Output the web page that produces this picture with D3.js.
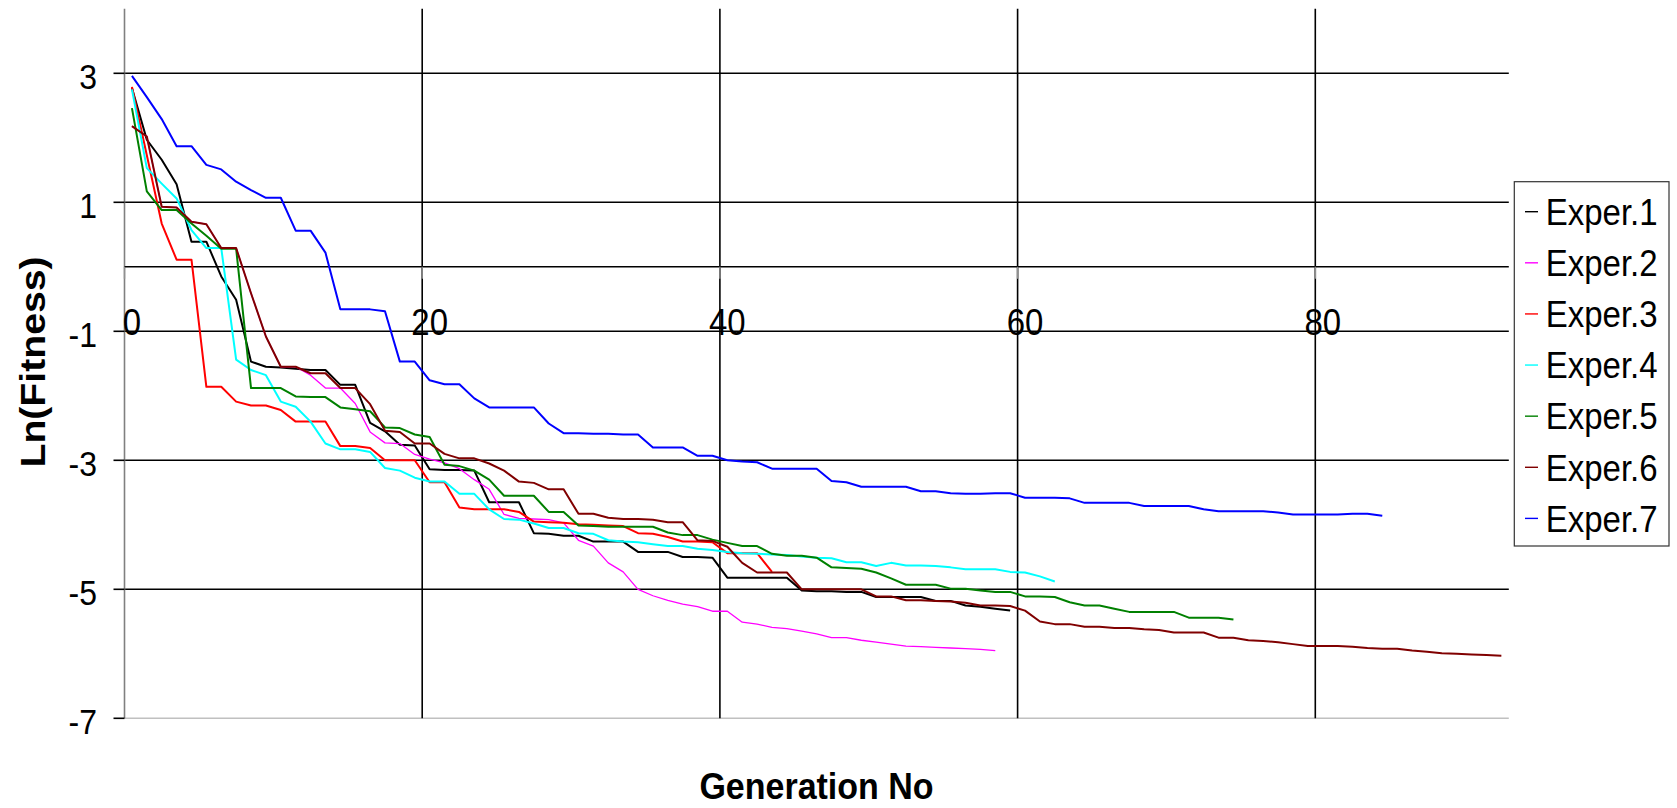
<!DOCTYPE html>
<html>
<head>
<meta charset="utf-8">
<script src="https://cdn.jsdelivr.net/npm/d3@7"></script>
<style>
  html, body { margin: 0; padding: 0; background: #fff; }
  svg { display: block; }
  text { font-family: "Liberation Sans", Arial, sans-serif; fill: #000; }
</style>
</head>
<body>
<svg id="chart" width="1677" height="808"></svg>
<script>
// Ln(fitness) of the best individual per generation, one array per experiment
const generations = d3.range(93);
const seriesNames = ["Exper.1", "Exper.2", "Exper.3", "Exper.4", "Exper.5", "Exper.6", "Exper.7"];
const seriesColors = ["#000000", "#ff00ff", "#ff0000", "#00ffff", "#008000", "#800000", "#0000ff"];

const exper1 = [2.77, 1.97, 1.66, 1.28, 0.39, 0.39, -0.15, -0.51, -1.47, -1.55,
  -1.56, -1.58, -1.60, -1.60, -1.83, -1.83, -2.42, -2.55, -2.76, -2.77,
  -3.14, -3.15, -3.15, -3.16, -3.65, -3.65, -3.65, -4.13, -4.14, -4.17,
  -4.17, -4.26, -4.26, -4.26, -4.42, -4.42, -4.42, -4.50, -4.50, -4.51,
  -4.82, -4.82, -4.82, -4.82, -4.82, -5.02, -5.03, -5.03, -5.04, -5.04,
  -5.12, -5.12, -5.12, -5.12, -5.18, -5.18, -5.25, -5.27, -5.30, -5.33];

const exper2 = [2.18, 2.02, 0.93, 0.92, 0.70, 0.66, 0.29, 0.29, -0.41, -1.08,
  -1.55, -1.55, -1.68, -1.88, -1.88, -2.12, -2.56, -2.73, -2.74, -2.91,
  -2.98, -3.04, -3.13, -3.30, -3.45, -3.84, -3.90, -3.91, -3.92, -3.97,
  -4.24, -4.33, -4.59, -4.73, -5.00, -5.10, -5.17, -5.23, -5.27, -5.34,
  -5.34, -5.51, -5.54, -5.59, -5.61, -5.65, -5.69, -5.75, -5.75, -5.79,
  -5.82, -5.85, -5.88, -5.89, -5.90, -5.91, -5.92, -5.93, -5.95];

const exper3 = [2.79, 1.73, 0.67, 0.11, 0.11, -1.86, -1.86, -2.09, -2.15, -2.15,
  -2.22, -2.40, -2.40, -2.40, -2.78, -2.78, -2.81, -3.00, -3.00, -3.00,
  -3.34, -3.34, -3.73, -3.76, -3.76, -3.76, -3.80, -3.95, -3.96, -3.97,
  -3.99, -4.00, -4.01, -4.02, -4.13, -4.14, -4.19, -4.26, -4.26, -4.27,
  -4.44, -4.44, -4.44, -4.73];

const exper4 = [2.75, 1.53, 1.29, 1.06, 0.57, 0.29, 0.29, -1.44, -1.60, -1.68,
  -2.09, -2.17, -2.40, -2.74, -2.83, -2.83, -2.87, -3.12, -3.16, -3.27,
  -3.33, -3.33, -3.52, -3.52, -3.76, -3.91, -3.92, -3.98, -4.05, -4.05,
  -4.13, -4.14, -4.24, -4.26, -4.27, -4.30, -4.33, -4.33, -4.37, -4.39,
  -4.42, -4.44, -4.45, -4.46, -4.47, -4.49, -4.51, -4.52, -4.58, -4.58,
  -4.64, -4.59, -4.63, -4.63, -4.64, -4.66, -4.69, -4.69, -4.69, -4.73,
  -4.74, -4.80, -4.88];

const exper5 = [2.46, 1.17, 0.88, 0.88, 0.67, 0.48, 0.28, 0.28, -1.88, -1.88,
  -1.88, -2.01, -2.02, -2.02, -2.18, -2.21, -2.24, -2.49, -2.50, -2.60,
  -2.64, -3.07, -3.09, -3.16, -3.30, -3.55, -3.55, -3.55, -3.80, -3.80,
  -4.01, -4.02, -4.03, -4.03, -4.03, -4.03, -4.12, -4.16, -4.16, -4.23,
  -4.28, -4.33, -4.33, -4.45, -4.48, -4.48, -4.51, -4.66, -4.67, -4.68,
  -4.74, -4.83, -4.93, -4.93, -4.93, -4.99, -4.99, -5.02, -5.04, -5.04,
  -5.11, -5.11, -5.12, -5.20, -5.25, -5.25, -5.30, -5.35, -5.35, -5.35,
  -5.35, -5.44, -5.44, -5.44, -5.47];

const exper6 = [2.18, 2.02, 0.93, 0.92, 0.70, 0.66, 0.29, 0.29, -0.41, -1.08,
  -1.55, -1.55, -1.65, -1.65, -1.88, -1.88, -2.13, -2.54, -2.56, -2.74,
  -2.74, -2.90, -2.97, -2.97, -3.05, -3.16, -3.33, -3.35, -3.45, -3.45,
  -3.83, -3.83, -3.89, -3.91, -3.91, -3.92, -3.96, -3.96, -4.24, -4.25,
  -4.34, -4.59, -4.74, -4.74, -4.74, -5.00, -5.00, -5.00, -5.00, -5.00,
  -5.11, -5.11, -5.17, -5.17, -5.18, -5.19, -5.21, -5.25, -5.25, -5.26,
  -5.33, -5.50, -5.54, -5.54, -5.58, -5.58, -5.60, -5.60, -5.62, -5.63,
  -5.67, -5.67, -5.67, -5.75, -5.75, -5.79, -5.80, -5.82, -5.85, -5.88,
  -5.88, -5.88, -5.89, -5.91, -5.92, -5.92, -5.95, -5.97, -5.99, -6.00,
  -6.01, -6.02, -6.03];

const exper7 = [2.96, 2.63, 2.29, 1.87, 1.87, 1.58, 1.51, 1.32, 1.19, 1.07,
  1.07, 0.56, 0.56, 0.22, -0.66, -0.66, -0.66, -0.69, -1.47, -1.47,
  -1.76, -1.82, -1.82, -2.04, -2.18, -2.18, -2.18, -2.18, -2.43, -2.58,
  -2.58, -2.59, -2.59, -2.60, -2.60, -2.80, -2.80, -2.80, -2.93, -2.93,
  -3.00, -3.02, -3.03, -3.13, -3.13, -3.13, -3.13, -3.32, -3.34, -3.41,
  -3.41, -3.41, -3.41, -3.48, -3.48, -3.51, -3.52, -3.52, -3.51, -3.51,
  -3.58, -3.58, -3.58, -3.59, -3.66, -3.66, -3.66, -3.66, -3.71, -3.71,
  -3.71, -3.71, -3.76, -3.79, -3.79, -3.79, -3.79, -3.81, -3.84, -3.84,
  -3.84, -3.84, -3.83, -3.83, -3.86];

const allSeries = [exper1, exper2, exper3, exper4, exper5, exper6, exper7];

const xTickLabels = [0, 20, 40, 60, 80];
const yTickValues = [-7, -5, -3, -1, 1, 3];
const yGridValues = [-5, -3, -1, 1, 3];

// ---- layout ----
const plotLeft = 124.5, plotRight = 1508.8, plotTop = 8.8, plotBottom = 718.3;

const svg = d3.select("#chart");

// category axis: one band per generation, points sit in the band centre
const x = d3.scaleBand().domain(generations).range([plotLeft, plotRight]).padding(0);
const bw = x.bandwidth();
const y = d3.scaleLinear().domain([-7, 4]).range([plotBottom, plotTop]);

const grid = svg.append("g");

// bottom border of the plot area
grid.append("line")
  .attr("x1", plotLeft).attr("x2", plotRight)
  .attr("y1", y(-7)).attr("y2", y(-7))
  .attr("stroke", "#c0c0c0").attr("stroke-width", 1.5);

// horizontal grid lines
grid.selectAll("line.hgrid").data(yGridValues).join("line")
  .attr("class", "hgrid")
  .attr("x1", plotLeft).attr("x2", plotRight)
  .attr("y1", d => y(d)).attr("y2", d => y(d))
  .attr("stroke", "#000").attr("stroke-width", 1.6);

// vertical grid lines at every 20th category boundary
grid.selectAll("line.vgrid").data(xTickLabels.filter(d => d > 0)).join("line")
  .attr("class", "vgrid")
  .attr("x1", d => x(d)).attr("x2", d => x(d))
  .attr("y1", plotTop).attr("y2", plotBottom)
  .attr("stroke", "#000").attr("stroke-width", 1.6);

// y axis (gray) with outward ticks
grid.append("line")
  .attr("x1", plotLeft).attr("x2", plotLeft)
  .attr("y1", plotTop).attr("y2", plotBottom)
  .attr("stroke", "#808080").attr("stroke-width", 1.6);
grid.selectAll("line.ytick").data(yTickValues).join("line")
  .attr("class", "ytick")
  .attr("x1", plotLeft - 11).attr("x2", plotLeft)
  .attr("y1", d => y(d)).attr("y2", d => y(d))
  .attr("stroke", "#000").attr("stroke-width", 1.6);

// x axis crossing at 0, with small downward ticks
grid.append("line")
  .attr("x1", plotLeft).attr("x2", plotRight)
  .attr("y1", y(0)).attr("y2", y(0))
  .attr("stroke", "#000").attr("stroke-width", 1.6);
grid.selectAll("line.xtick").data(xTickLabels).join("line")
  .attr("class", "xtick")
  .attr("x1", d => x(d)).attr("x2", d => x(d))
  .attr("y1", y(0)).attr("y2", y(0) + 12)
  .attr("stroke", "#909090").attr("stroke-width", 1.4);

// tick labels
svg.append("g").selectAll("text").data(yTickValues).join("text")
  .attr("transform", d => `translate(97,${y(d) + 16}) scale(1,1.12)`)
  .attr("text-anchor", "end")
  .attr("font-size", 32)
  .text(d => d);

svg.append("g").selectAll("text").data(xTickLabels).join("text")
  .attr("transform", d => `translate(${x(d) + bw / 2},335) scale(1,1.12)`)
  .attr("text-anchor", "middle")
  .attr("font-size", 33)
  .text(d => d);

// series lines
const line = d3.line()
  .x((d, i) => x(generations[i]) + bw / 2)
  .y(d => y(d));

svg.append("g").selectAll("path").data(allSeries).join("path")
  .attr("d", d => line(d))
  .attr("fill", "none")
  .attr("stroke", (d, i) => seriesColors[i])
  .attr("stroke-width", (d, i) => i === 1 ? 1.3 : 2)
  .attr("stroke-linejoin", "round");

// axis titles
svg.append("text")
  .attr("transform", "translate(44.6,362) rotate(-90) scale(1.12,1)")
  .attr("text-anchor", "middle")
  .attr("font-size", 35)
  .attr("font-weight", "bold")
  .text("Ln(Fitness)");

svg.append("text")
  .attr("transform", "translate(816.5,799) scale(1,1.07)")
  .attr("text-anchor", "middle")
  .attr("font-size", 34)
  .attr("font-weight", "bold")
  .text("Generation No");

// legend
const legend = svg.append("g");
legend.append("rect")
  .attr("x", 1514.3).attr("y", 181.7)
  .attr("width", 154.7).attr("height", 364.3)
  .attr("fill", "#fff").attr("stroke", "#333").attr("stroke-width", 1.2);

const rowY = d3.scalePoint().domain(seriesNames).range([225, 531.7]);
const items = legend.selectAll("g.item").data(seriesNames).join("g").attr("class", "item");
items.append("line")
  .attr("x1", 1525).attr("x2", 1538)
  .attr("y1", d => rowY(d) - 13.3).attr("y2", d => rowY(d) - 13.3)
  .attr("stroke", (d, i) => seriesColors[i]).attr("stroke-width", 1.4);
items.append("text")
  .attr("transform", d => `translate(1545.7,${rowY(d)}) scale(1,1.13)`)
  .attr("font-size", 33)
  .text(d => d);
</script>
</body>
</html>
